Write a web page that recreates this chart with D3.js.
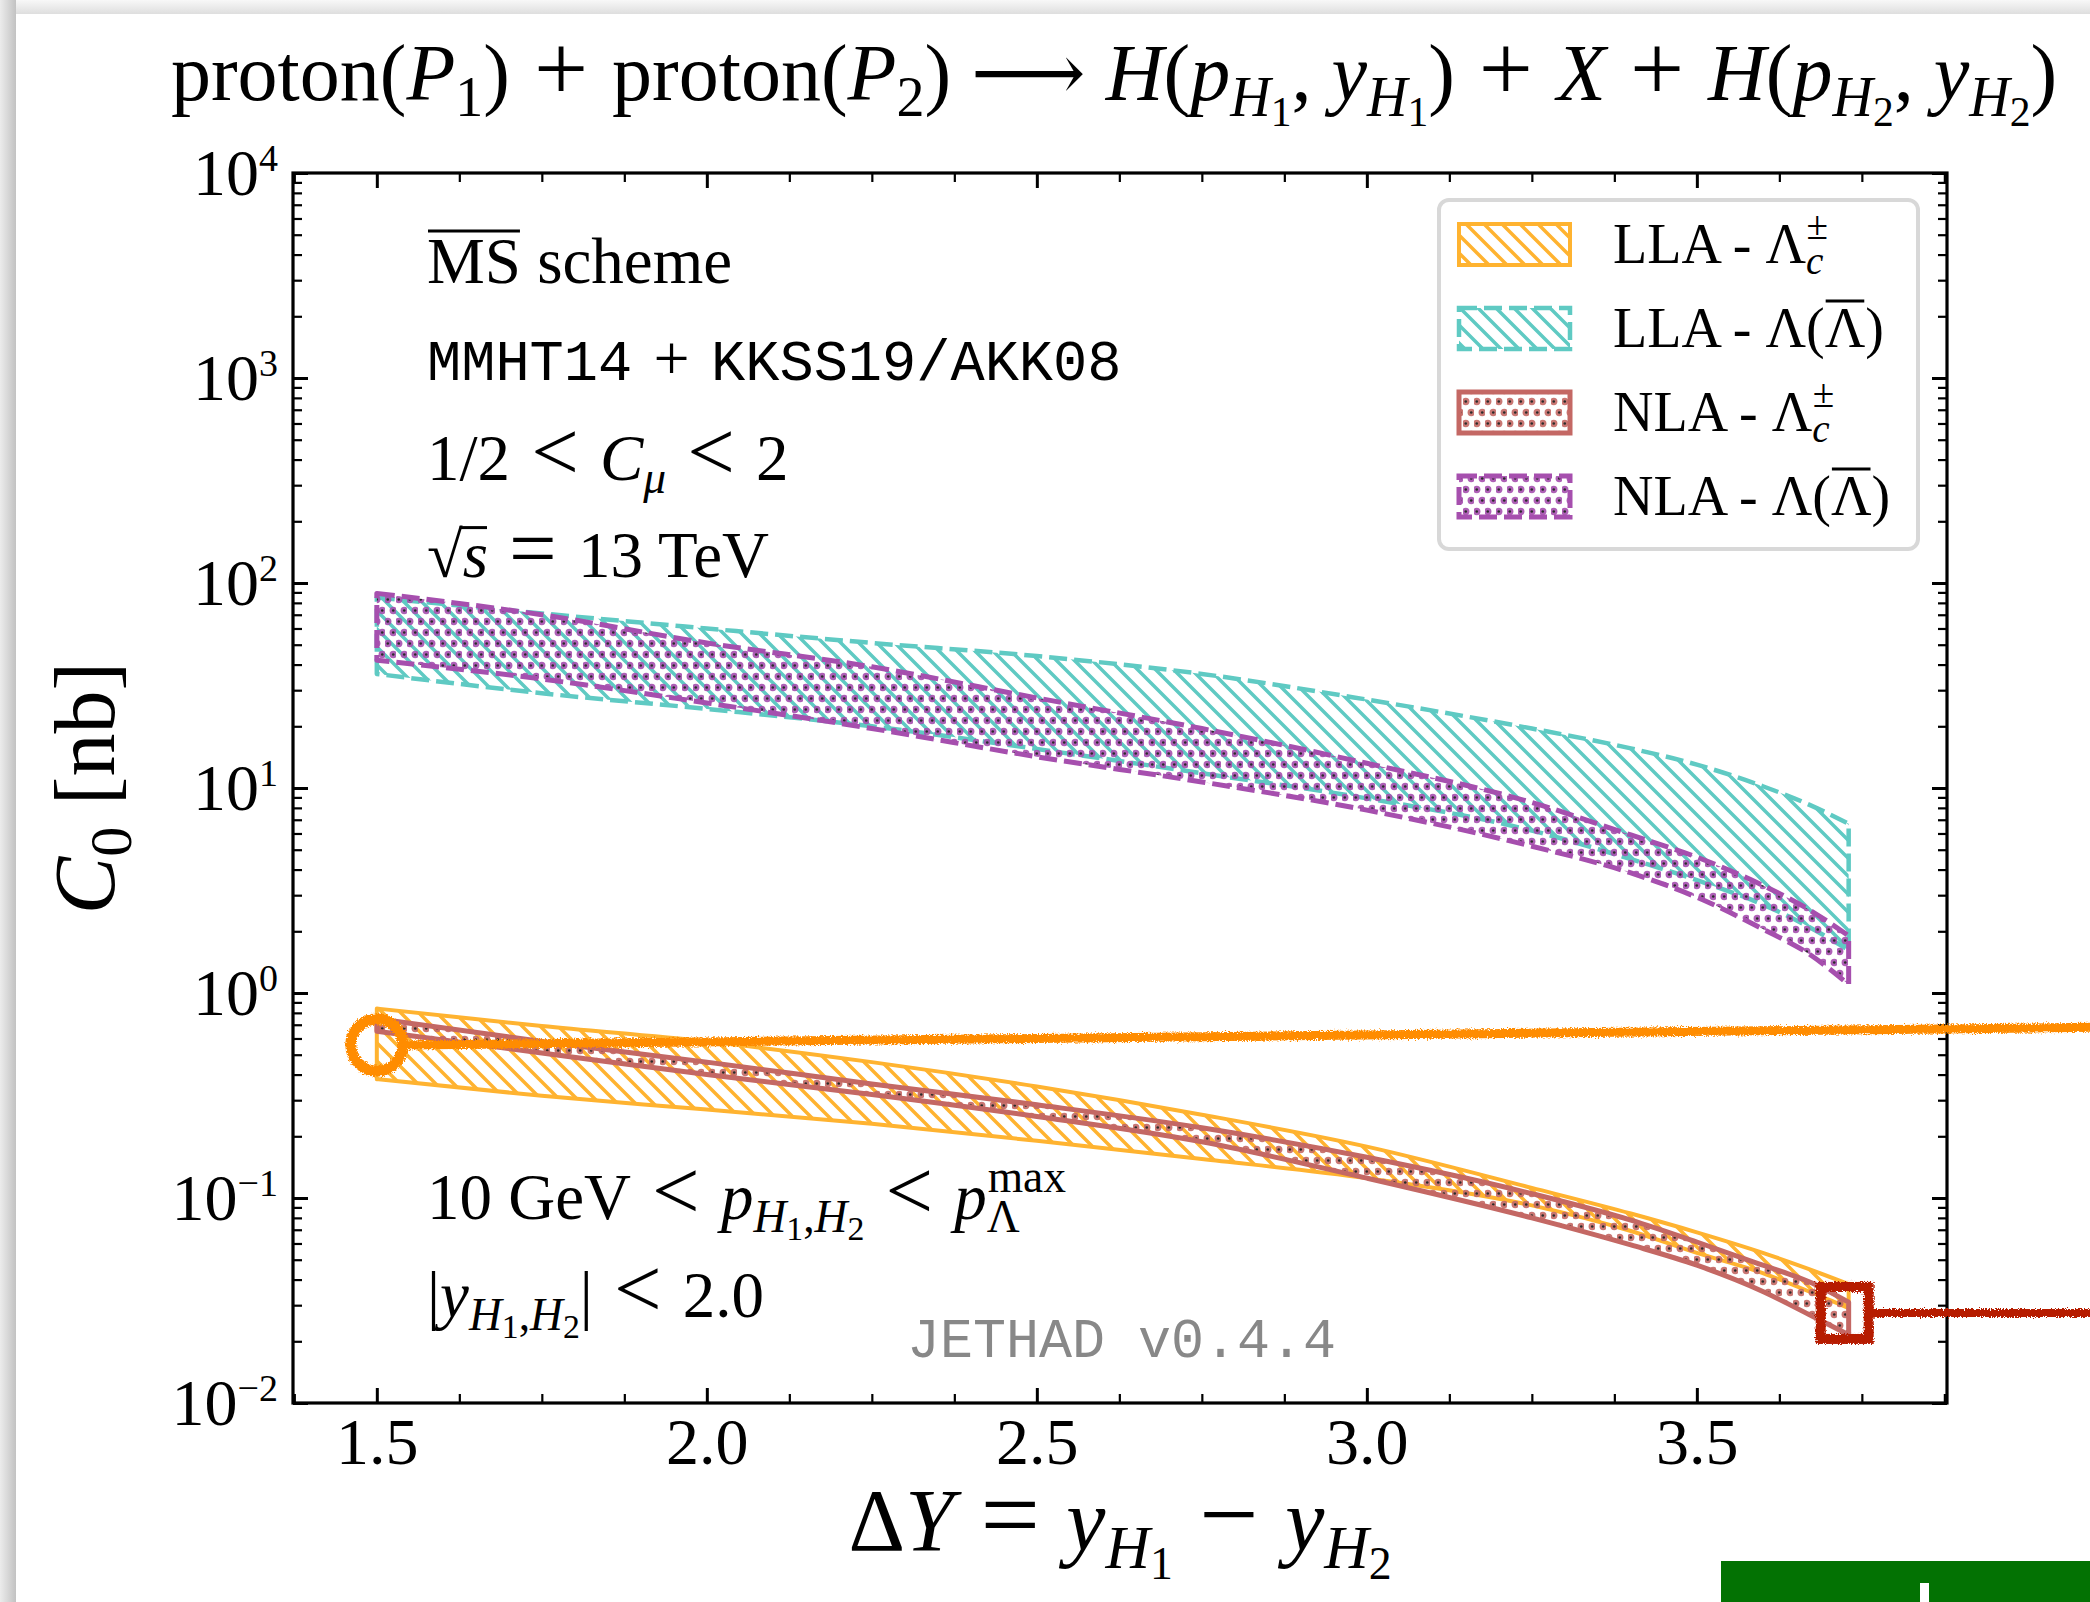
<!DOCTYPE html>
<html>
<head>
<meta charset="utf-8">
<script src="https://cdn.jsdelivr.net/npm/d3@7"></script>
<style>
  html, body { margin: 0; padding: 0; background: #fff; overflow: hidden; }
  svg { display: block; }
  text { white-space: pre; }
</style>
</head>
<body>
<div id="chart"></div>
<script>
// values (C0 in nb vs rapidity interval)
const deltaY = [1.5, 1.75, 2.0, 2.25, 2.5, 2.75, 3.0, 3.25, 3.4, 3.5, 3.6, 3.67, 3.73];

const llaLcUp = [0.84, 0.69, 0.58, 0.46, 0.35, 0.255, 0.178, 0.112, 0.084, 0.068, 0.054, 0.045, 0.038];
const llaLcLo = [0.38, 0.315, 0.27, 0.23, 0.19, 0.155, 0.125, 0.092, 0.069, 0.054, 0.043, 0.035, 0.029];
const llaLUp  = [85, 71, 60, 51, 44, 36, 27, 19.5, 15.6, 13, 10.2, 8.3, 6.7];
const llaLLo  = [36, 29, 24.3, 20, 15.5, 11.8, 8.9, 6.2, 4.5, 3.55, 2.7, 2.1, 1.62];
const nlaLcUp = [0.75, 0.58, 0.46, 0.36, 0.285, 0.22, 0.158, 0.105, 0.078, 0.061, 0.047, 0.039, 0.031];
const nlaLcLo = [0.65, 0.51, 0.40, 0.32, 0.25, 0.188, 0.125, 0.08, 0.059, 0.047, 0.035, 0.027, 0.0215];
const nlaLUp  = [89, 70, 51, 39, 27.5, 19.5, 13.2, 8.5, 5.9, 4.6, 3.35, 2.55, 1.9];
const nlaLLo  = [42, 34, 26, 19.5, 14.2, 10.7, 7.8, 5.2, 3.85, 2.93, 2.05, 1.55, 1.1];

const xTicks = [1.5, 2.0, 2.5, 3.0, 3.5];
const xLimits = [1.373, 3.879];
const yTicks = [1e-2, 1e-1, 1, 10, 100, 1000, 10000];
const yLimits = [1e-2, 1e4];

// hand-drawn marks on top of the figure (data units)
const marks = [
  { x: 1.5, y: 0.557, toX: 4.1, toY: 0.68, shape: "circle" },
  { x: 3.724, y: 0.0275, toX: 4.1, toY: 0.0275, shape: "square" }
];

const W = 2090, H = 1602;
const box = { left: 293, right: 1947, top: 173, bottom: 1403 };

const SERIF = "'Liberation Serif', 'DejaVu Serif', serif";
const MONO = "'Liberation Mono', 'DejaVu Sans Mono', monospace";

const svg = d3.select("#chart").append("svg")
  .attr("width", W)
  .attr("height", H);

const defs = svg.append("defs");

// page frame shadow
const gTop = defs.append("linearGradient").attr("id", "shTop").attr("x1", 0).attr("y1", 0).attr("x2", 0).attr("y2", 1);
gTop.append("stop").attr("offset", 0).attr("stop-color", "#f8f8f8");
gTop.append("stop").attr("offset", 1).attr("stop-color", "#dedede");
const gLeft = defs.append("linearGradient").attr("id", "shLeft").attr("x1", 0).attr("y1", 0).attr("x2", 1).attr("y2", 0);
gLeft.append("stop").attr("offset", 0).attr("stop-color", "#ececec");
gLeft.append("stop").attr("offset", 1).attr("stop-color", "#c2c2c2");

svg.append("rect").attr("width", W).attr("height", 14).attr("fill", "url(#shTop)");
svg.append("rect").attr("width", 16).attr("height", H).attr("fill", "url(#shLeft)");

const x = d3.scaleLinear().domain(xLimits).range([box.left, box.right]);
const y = d3.scaleLog().domain(yLimits).range([box.bottom, box.top]);

const series = [
  { label: "LLA", had: "c", up: llaLcUp, lo: llaLcLo, color: "#ffb330", fill: "hatch", dash: null, sw: 4 },
  { label: "LLA", had: "bar", up: llaLUp, lo: llaLLo, color: "#5fcac3", fill: "hatch", dash: "18,7", sw: 4.5 },
  { label: "NLA", had: "c", up: nlaLcUp, lo: nlaLcLo, color: "#c46864", fill: "dots", dash: null, sw: 5 },
  { label: "NLA", had: "bar", up: nlaLUp, lo: nlaLLo, color: "#a64fae", fill: "dots", dash: "18,7", sw: 5 }
];

series.forEach((s, i) => {
  s.id = "pat" + i;
  if (s.fill === "hatch") {
    defs.append("pattern")
      .attr("id", s.id)
      .attr("patternUnits", "userSpaceOnUse")
      .attr("width", 18)
      .attr("height", 18)
      .append("path")
      .attr("d", "M-4.5,13.5L4.5,22.5M0,0L18,18M13.5,-4.5L22.5,4.5")
      .attr("stroke", s.color)
      .attr("stroke-width", 3.5);
  } else {
    const p = defs.append("pattern")
      .attr("id", s.id)
      .attr("patternUnits", "userSpaceOnUse")
      .attr("width", 11)
      .attr("height", 22);
    [[2.75, 5.5], [8.25, 16.5]].forEach(c => {
      p.append("circle").attr("cx", c[0]).attr("cy", c[1]).attr("r", 3.7).attr("fill", s.color).attr("opacity", 0.9);
      p.append("circle").attr("cx", c[0]).attr("cy", c[1]).attr("r", 1.3).attr("fill", "#2a2a2a");
    });
  }
});

defs.append("clipPath").attr("id", "plotClip")
  .append("rect")
  .attr("x", box.left).attr("y", box.top)
  .attr("width", box.right - box.left).attr("height", box.bottom - box.top);

// rough stroke for the hand-drawn marks
const rough = defs.append("filter").attr("id", "rough")
  .attr("filterUnits", "userSpaceOnUse")
  .attr("x", 0).attr("y", 0).attr("width", W).attr("height", H);
rough.append("feTurbulence").attr("type", "fractalNoise").attr("baseFrequency", 0.7).attr("numOctaves", 2).attr("result", "n");
rough.append("feDisplacementMap").attr("in", "SourceGraphic").attr("in2", "n").attr("scale", 6)
  .attr("xChannelSelector", "R").attr("yChannelSelector", "G");

// small helper for math-like text
const LEVEL_OFF = { "0": 0, "-1": 0.2, "-2": 0.33, "1": -0.42 };
const LEVEL_SZ = { "0": 1, "-1": 0.7, "-2": 0.52, "1": 0.7 };

function mathText(parent, tx, ty, parts, size, anchor) {
  const t = parent.append("text")
    .attr("x", tx)
    .attr("y", ty)
    .attr("text-anchor", anchor || "start")
    .style("font-size", size + "px")
    .style("font-family", SERIF)
    .attr("fill", "#000");
  let cur = 0, idx = 0;
  const bars = [];
  parts.forEach(p => {
    const [txt, f, lv = 0, opt = {}] = p;
    const off = LEVEL_OFF[lv] * size;
    const ts = t.append("tspan")
      .attr("dy", off - cur)
      .style("font-size", LEVEL_SZ[lv] * size * (opt.scale || 1) + "px")
      .style("font-family", f === "t" ? MONO : SERIF)
      .style("font-style", f === "i" ? "italic" : "normal")
      .text(txt);
    if (opt.dx) ts.attr("dx", opt.dx);
    if (opt.fs) ts.style("font-size", opt.fs + "px");
    if (opt.over) bars.push({ a: idx, b: idx + txt.length - 1, h: opt.over, join: opt.join });
    idx += txt.length;
    cur = off;
  });
  // overlines (vinculum) drawn as real lines over the glyphs
  const el = t.node();
  bars.forEach(b => {
    let x0 = el.getStartPositionOfChar(b.a).x;
    const x1 = el.getEndPositionOfChar(b.b).x;
    if (b.join) x0 = el.getEndPositionOfChar(b.a - 1).x - 3;
    parent.append("line")
      .attr("x1", x0 + (b.join ? 0 : 1)).attr("x2", x1 - 1)
      .attr("y1", ty - b.h * size).attr("y2", ty - b.h * size)
      .attr("stroke", "#000").attr("stroke-width", 3);
  });
  return t;
}

// binary / relation symbols are set a bit larger, as TeX does
const op = (s, k) => [" " + s + " ", "r", 0, { scale: k || 1.25 }];

// bands
const plot = svg.append("g").attr("clip-path", "url(#plotClip)");

const area = d3.area()
  .x((d, i) => x(deltaY[i]))
  .y0(d => y(d[0]))
  .y1(d => y(d[1]))
  .curve(d3.curveMonotoneX);

series.forEach(s => {
  const rows = s.lo.map((v, i) => [v, s.up[i]]);
  plot.append("path")
    .datum(rows)
    .attr("d", area)
    .attr("fill", `url(#${s.id})`)
    .attr("stroke", s.color)
    .attr("stroke-width", s.sw)
    .attr("stroke-dasharray", s.dash)
    .attr("stroke-linejoin", "round");
});

// axes, ticks inward on all four sides
const xMinor = d3.range(1.375, 3.88, 0.125).filter(v => !xTicks.some(t => Math.abs(t - v) < 1e-6));
const yMinor = [];
for (let e = -2; e < 4; e++) for (let m = 2; m < 10; m++) yMinor.push(m * Math.pow(10, e));

function styleAxis(g, w) {
  g.select(".domain").remove();
  g.selectAll(".tick line").attr("stroke", "#000").attr("stroke-width", w);
  g.attr("font-family", SERIF).attr("font-size", 66);
  g.selectAll(".tick text").attr("fill", "#000");
}

const fmt = d3.format(".1f");
svg.append("g").attr("transform", `translate(0,${box.bottom})`)
  .call(d3.axisBottom(x).tickValues(xTicks).tickSize(-15).tickSizeOuter(0).tickPadding(14).tickFormat(fmt))
  .call(g => styleAxis(g, 3));
svg.append("g").attr("transform", `translate(0,${box.bottom})`)
  .call(d3.axisBottom(x).tickValues(xMinor).tickSize(-9).tickSizeOuter(0).tickFormat(""))
  .call(g => styleAxis(g, 2.2));
svg.append("g").attr("transform", `translate(0,${box.top})`)
  .call(d3.axisTop(x).tickValues(xTicks).tickSize(-15).tickSizeOuter(0).tickFormat(""))
  .call(g => styleAxis(g, 3));
svg.append("g").attr("transform", `translate(0,${box.top})`)
  .call(d3.axisTop(x).tickValues(xMinor).tickSize(-9).tickSizeOuter(0).tickFormat(""))
  .call(g => styleAxis(g, 2.2));

const yAx = svg.append("g").attr("transform", `translate(${box.left},0)`)
  .call(d3.axisLeft(y).tickValues(yTicks).tickSize(-15).tickSizeOuter(0).tickPadding(15).tickFormat(() => "10"))
  .call(g => styleAxis(g, 3));
yAx.selectAll(".tick text")
  .attr("dy", "0.33em")
  .append("tspan")
  .attr("dy", -24)
  .style("font-size", "38px")
  .text(d => {
    const e = Math.round(Math.log10(d));
    return e < 0 ? "\u2212" + (-e) : String(e);
  });
svg.append("g").attr("transform", `translate(${box.left},0)`)
  .call(d3.axisLeft(y).tickValues(yMinor).tickSize(-9).tickSizeOuter(0).tickFormat(""))
  .call(g => styleAxis(g, 2.2));
svg.append("g").attr("transform", `translate(${box.right},0)`)
  .call(d3.axisRight(y).tickValues(yTicks).tickSize(-15).tickSizeOuter(0).tickFormat(""))
  .call(g => styleAxis(g, 3));
svg.append("g").attr("transform", `translate(${box.right},0)`)
  .call(d3.axisRight(y).tickValues(yMinor).tickSize(-9).tickSizeOuter(0).tickFormat(""))
  .call(g => styleAxis(g, 2.2));

svg.append("rect")
  .attr("x", box.left).attr("y", box.top)
  .attr("width", box.right - box.left).attr("height", box.bottom - box.top)
  .attr("fill", "none")
  .attr("stroke", "#000")
  .attr("stroke-width", 3.2);

// title and axis labels
mathText(svg, 1114, 100, [
  ["proton(", "r"], ["P", "i"], ["1", "r", -1], [")", "r"], op("+", 1.2), ["proton(", "r"], ["P", "i"], ["2", "r", -1],
  [")", "r"], op("\u27f6", 1.0), ["H", "i"], ["(", "r"], ["p", "i"], ["H", "i", -1], ["1", "r", -2], [", ", "r"],
  ["y", "i"], ["H", "i", -1], ["1", "r", -2], [")", "r"], op("+", 1.2), ["X", "i"], op("+", 1.2), ["H", "i"], ["(", "r"],
  ["p", "i"], ["H", "i", -1], ["2", "r", -2], [", ", "r"], ["y", "i"], ["H", "i", -1], ["2", "r", -2], [")", "r"]
], 80, "middle");

mathText(svg, (box.left + box.right) / 2, 1550, [
  ["\u0394", "r"], ["Y", "i"], op("=", 1.2), ["y", "i"], ["H", "i", -1], ["1", "r", -2],
  op("\u2212", 1.2), ["y", "i"], ["H", "i", -1], ["2", "r", -2]
], 88, "middle");

mathText(svg, 0, 0, [["C", "i"], ["0", "r", -1], [" [nb]", "r"]], 86, "middle")
  .attr("transform", `translate(114,${(box.top + box.bottom) / 2}) rotate(-90)`);

// annotations inside the frame
const ann = svg.append("g");
mathText(ann, 427, 283, [["MS", "r", 0, { over: 0.8 }], [" scheme", "r"]], 65);
mathText(ann, 427, 380, [["MMHT14", "t", 0, { fs: 57 }], ["\u2004+\u2004", "r"], ["KKSS19/AKK08", "t", 0, { fs: 57 }]], 64);
mathText(ann, 427, 480, [["1/2", "r"], op("<", 1.3), ["C", "i"], ["\u03bc", "i", -1], op("<", 1.3), ["2", "r"]], 65);
mathText(ann, 427, 577, [["\u221a", "r"], ["s", "i", 0, { over: 0.76, join: true }], op("=", 1.3), ["13 TeV", "r"]], 65);
mathText(ann, 427, 1219, [
  ["10 GeV", "r"], op("<", 1.3), ["p", "i"], ["H", "i", -1], ["1", "r", -2], [",", "r", -1], ["H", "i", -1], ["2", "r", -2],
  op("<", 1.3), ["p", "i"], ["\u039b", "r", -1], ["max", "r", 1, { dx: -32 }]
], 65);
mathText(ann, 427, 1317, [
  ["|", "r"], ["y", "i"], ["H", "i", -1], ["1", "r", -2], [",", "r", -1], ["H", "i", -1], ["2", "r", -2], ["|", "r"],
  op("<", 1.3), ["2.0", "r"]
], 65);
mathText(ann, 907, 1357, [["JETHAD v0.4.4", "t"]], 55).attr("fill", "#888").selectAll("tspan").attr("fill", "#888");

// legend
const legend = svg.append("g").attr("class", "legend");
legend.append("rect")
  .attr("x", 1439).attr("y", 200)
  .attr("width", 479).attr("height", 349)
  .attr("rx", 10)
  .attr("fill", "#fff")
  .attr("stroke", "#d8d8d8")
  .attr("stroke-width", 4);

series.forEach((s, i) => {
  const cy = 244 + i * 84;
  legend.append("rect")
    .attr("x", 1459).attr("y", cy - 20)
    .attr("width", 111).attr("height", 41)
    .attr("fill", `url(#${s.id})`)
    .attr("stroke", s.color)
    .attr("stroke-width", s.sw)
    .attr("stroke-dasharray", s.dash);
  const parts = s.had === "c"
    ? [[s.label + " - \u039b", "r"], ["c", "i", -1], ["\u00b1", "r", 1, { dx: -17 }]]
    : [[s.label + " - \u039b(", "r"], ["\u039b", "r", 0, { over: 0.82 }], [")", "r"]];
  mathText(legend, 1613, cy + 19, parts, 56);
});

// hand-drawn highlight marks
const marksG = svg.append("g").attr("filter", "url(#rough)");
const markColor = { circle: "#ff8c00", square: "#b61a00" };
marks.forEach(m => {
  const cx = x(m.x), cy = y(m.y);
  const c = markColor[m.shape];
  if (m.shape === "circle") {
    marksG.append("circle").attr("cx", cx).attr("cy", cy).attr("r", 26)
      .attr("fill", "none").attr("stroke", c).attr("stroke-width", 11);
    marksG.append("line").attr("x1", cx + 26).attr("y1", cy).attr("x2", x(m.toX)).attr("y2", y(m.toY))
      .attr("stroke", c).attr("stroke-width", 9);
  } else {
    marksG.append("rect").attr("x", cx - 24).attr("y", cy - 26).attr("width", 48).attr("height", 52)
      .attr("fill", "none").attr("stroke", c).attr("stroke-width", 10);
    marksG.append("line").attr("x1", cx + 24).attr("y1", cy).attr("x2", x(m.toX)).attr("y2", y(m.toY))
      .attr("stroke", c).attr("stroke-width", 8);
  }
});

// green button cut off at the page corner
svg.append("rect").attr("x", 1721).attr("y", 1561).attr("width", W - 1721).attr("height", H - 1561).attr("fill", "#037203");
svg.append("rect").attr("x", 1920).attr("y", 1583).attr("width", 9).attr("height", H - 1583).attr("fill", "#fff");
</script>
</body>
</html>
